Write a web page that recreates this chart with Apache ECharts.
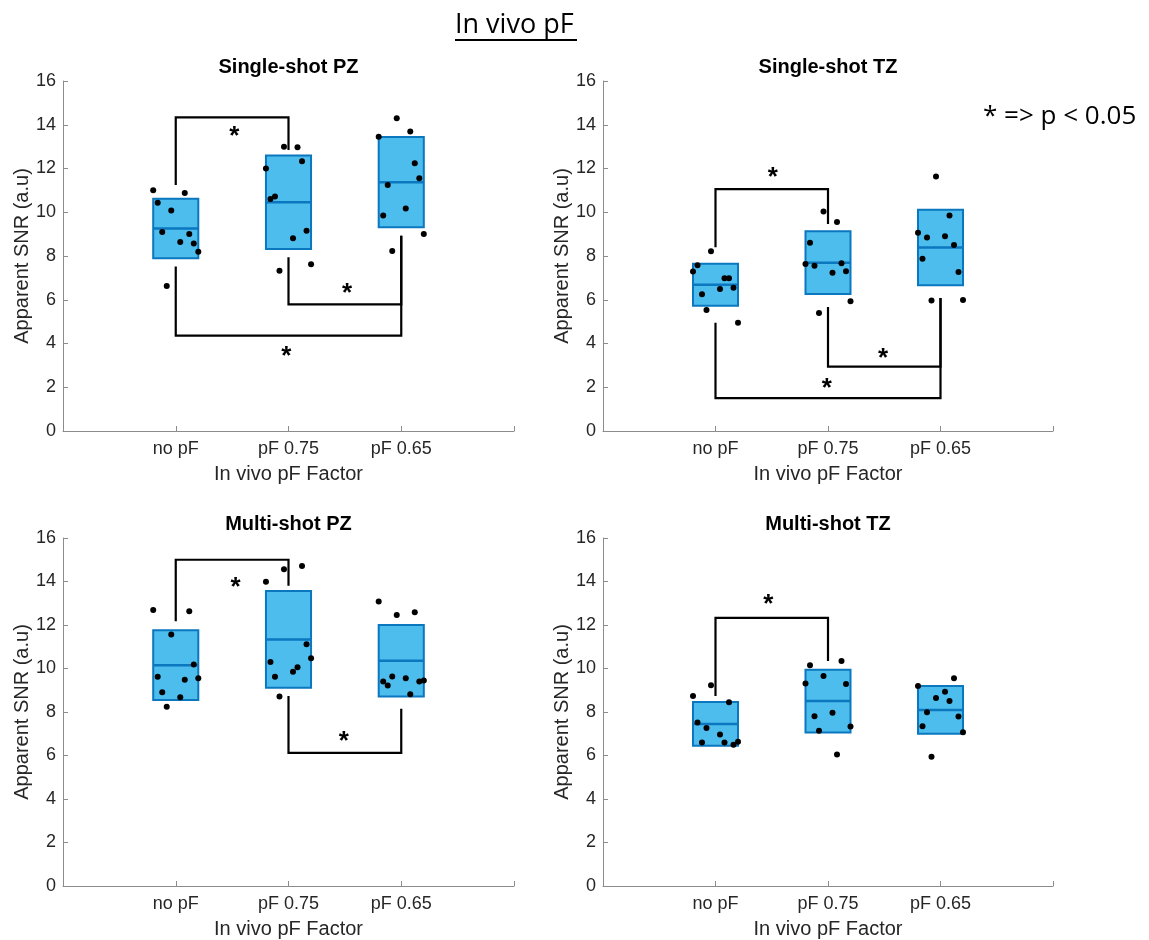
<!DOCTYPE html>
<html>
<head>
<meta charset="utf-8">
<title>In vivo pF</title>
<script src="https://cdn.jsdelivr.net/npm/echarts@6/dist/echarts.min.js"></script>
<style>
  html, body { margin: 0; padding: 0; background: #ffffff; }
  #chart { width: 1149px; height: 940px; }
</style>
</head>
<body>
<div id="chart"></div>
<script>
// ---- data -------------------------------------------------------------
const categories = ['no pF', 'pF 0.75', 'pF 0.65'];
const yTicks = [0, 2, 4, 6, 8, 10, 12, 14, 16];
// horizontal spread of the subject points around each category
const jitter = [-0.2, -0.16, -0.12, -0.08, -0.04, 0.04, 0.08, 0.12, 0.16, 0.2];

// Single-shot PZ
const ssPZ_noPF  = [11.01, 10.44, 9.10, 6.63, 10.08, 8.64, 10.88, 9.01, 8.57, 8.20];
const ssPZ_pF075 = [12.00, 10.61, 10.72, 7.33, 13.00, 8.81, 12.97, 12.33, 9.15, 7.62];
const ssPZ_pF065 = [13.45, 9.85, 11.25, 8.23, 14.30, 10.17, 13.69, 12.24, 11.55, 9.01];
// Single-shot TZ
const ssTZ_noPF  = [7.29, 7.58, 6.25, 5.53, 8.22, 6.49, 6.98, 6.98, 6.55, 4.95];
const ssTZ_pF075 = [7.64, 8.61, 7.56, 5.40, 10.03, 7.24, 9.55, 7.67, 7.30, 5.93];
const ssTZ_pF065 = [9.06, 7.87, 8.85, 5.97, 11.64, 8.90, 9.85, 8.50, 7.27, 5.99];
// Multi-shot PZ
const msPZ_noPF  = [12.69, 9.62, 8.91, 8.24, 11.56, 8.68, 9.48, 12.63, 10.18, 9.55];
const msPZ_pF075 = [13.99, 10.30, 9.62, 8.71, 14.56, 9.85, 10.06, 14.71, 11.12, 10.47];
const msPZ_pF065 = [13.08, 9.40, 9.22, 9.63, 12.46, 9.55, 8.82, 12.59, 9.40, 9.45];
// Multi-shot TZ
const msTZ_noPF  = [8.73, 7.52, 6.60, 7.27, 9.23, 6.97, 6.60, 8.45, 6.49, 6.63];
const msTZ_pF075 = [9.31, 10.15, 7.81, 7.14, 9.65, 7.96, 6.05, 10.35, 9.29, 7.33];
const msTZ_pF065 = [9.20, 7.35, 7.99, 5.94, 8.64, 8.93, 8.51, 9.55, 7.79, 7.07];

// significance brackets: [from category, from level, to category, to level, bar level]
const ssPZ_brackets = [[1, 11.25, 2, 12.85, 14.34], [2, 7.94, 3, 8.93, 5.79], [1, 7.52, 3, 8.93, 4.36]];
const ssTZ_brackets = [[1, 8.40, 2, 9.46, 11.06], [2, 5.67, 3, 6.08, 2.94], [1, 4.95, 3, 6.08, 1.50]];
const msPZ_brackets = [[1, 12.17, 2, 13.81, 15.00], [2, 8.73, 3, 8.15, 6.12]];
const msTZ_brackets = [[1, 8.73, 2, 10.34, 12.33]];
// asterisk positions [x, y] next to each bracket
const ssPZ_stars = [[1.52, 13.69], [2.52, 6.48], [1.98, 3.63]];
const ssTZ_stars = [[1.51, 11.82], [2.49, 3.52], [1.99, 2.14]];
const msPZ_stars = [[1.53, 13.96], [2.49, 6.84]];
const msTZ_stars = [[1.47, 13.17]];

const panelTitles = ['Single-shot PZ', 'Single-shot TZ', 'Multi-shot PZ', 'Multi-shot TZ'];
const xName = 'In vivo pF Factor';
const yName = 'Apparent SNR (a.u)';

// ---- layout & style ---------------------------------------------------
const grids = [
  { left: 63,  top: 81,  width: 451, height: 350 },
  { left: 603, top: 81,  width: 450, height: 350 },
  { left: 63,  top: 538, width: 451, height: 349 },
  { left: 603, top: 538, width: 450, height: 349 }
];
const BOX_HALF = 0.2;
const FONT = 'Liberation Sans';
const TEXT_COLOR = '#262626';
const AXIS_COLOR = '#8c8c8c';
const FILL = '#4DBDED';
const EDGE = '#0B77BF';

const panels = [
  { groups: [ssPZ_noPF, ssPZ_pF075, ssPZ_pF065], brackets: ssPZ_brackets, stars: ssPZ_stars },
  { groups: [ssTZ_noPF, ssTZ_pF075, ssTZ_pF065], brackets: ssTZ_brackets, stars: ssTZ_stars },
  { groups: [msPZ_noPF, msPZ_pF075, msPZ_pF065], brackets: msPZ_brackets, stars: msPZ_stars },
  { groups: [msTZ_noPF, msTZ_pF075, msTZ_pF065], brackets: msTZ_brackets, stars: msTZ_stars }
];

// box = mean +/- one standard deviation, line = mean
function meanSd(arr) {
  const n = arr.length;
  const m = arr.reduce((a, b) => a + b, 0) / n;
  const v = arr.reduce((a, b) => a + (b - m) * (b - m), 0) / (n - 1);
  return [m, Math.sqrt(v)];
}

const xAxes = [], yAxes = [], series = [], titles = [];

panels.forEach((p, i) => {
  const g = grids[i];
  titles.push({
    text: panelTitles[i],
    left: g.left + g.width / 2,
    top: g.top - 24,
    textAlign: 'center',
    padding: 0,
    textStyle: { fontFamily: FONT, fontSize: 20, fontWeight: 'bold', color: '#000' }
  });
  xAxes.push({
    gridIndex: i, type: 'value', min: 0, max: 4, interval: 1,
    name: xName, nameLocation: 'middle', nameGap: 33,
    nameTextStyle: { fontFamily: FONT, fontSize: 20, color: TEXT_COLOR },
    axisLine: { show: true, onZero: false, lineStyle: { color: AXIS_COLOR, width: 1 } },
    axisTick: { show: true, inside: true, length: 5, lineStyle: { color: AXIS_COLOR } },
    axisLabel: {
      margin: 9, fontFamily: FONT, fontSize: 18, color: TEXT_COLOR,
      formatter: v => (v >= 1 && v <= 3 ? categories[v - 1] : '')
    },
    splitLine: { show: false }
  });
  yAxes.push({
    gridIndex: i, type: 'value', min: yTicks[0], max: yTicks[yTicks.length - 1], interval: 2,
    name: yName, nameLocation: 'middle', nameGap: 31,
    nameTextStyle: { fontFamily: FONT, fontSize: 20, color: TEXT_COLOR },
    axisLine: { show: true, lineStyle: { color: AXIS_COLOR, width: 1 } },
    axisTick: { show: true, inside: true, length: 5, lineStyle: { color: AXIS_COLOR } },
    axisLabel: { margin: 7, fontFamily: FONT, fontSize: 18, color: TEXT_COLOR },
    splitLine: { show: false }
  });

  // mean +/- SD boxes
  const boxData = p.groups.map((arr, k) => {
    const [m, s] = meanSd(arr);
    return [k + 1, m - s, m, m + s];
  });
  series.push({
    type: 'custom', xAxisIndex: i, yAxisIndex: i, z: 2, silent: true,
    data: boxData,
    renderItem: (params, api) => {
      const x = api.value(0);
      const tl = api.coord([x - BOX_HALF, api.value(3)]);
      const br = api.coord([x + BOX_HALF, api.value(1)]);
      const ml = api.coord([x - BOX_HALF, api.value(2)]);
      const mr = api.coord([x + BOX_HALF, api.value(2)]);
      return {
        type: 'group',
        children: [
          { type: 'rect', shape: { x: tl[0], y: tl[1], width: br[0] - tl[0], height: br[1] - tl[1] },
            style: { fill: FILL, stroke: EDGE, lineWidth: 2 } },
          { type: 'line', shape: { x1: ml[0], y1: ml[1], x2: mr[0], y2: mr[1] },
            style: { stroke: EDGE, lineWidth: 2.5 } }
        ]
      };
    }
  });

  // subject points
  const pts = [];
  p.groups.forEach((arr, k) => arr.forEach((v, j) => pts.push([k + 1 + jitter[j], v])));
  series.push({
    type: 'scatter', xAxisIndex: i, yAxisIndex: i, z: 3, silent: true,
    symbol: 'circle', symbolSize: 6,
    itemStyle: { color: '#000', opacity: 1 },
    data: pts
  });

  // significance brackets
  series.push({
    type: 'custom', xAxisIndex: i, yAxisIndex: i, z: 4, silent: true,
    data: p.brackets,
    renderItem: (params, api) => {
      const a = api.coord([api.value(0), api.value(1)]);
      const b = api.coord([api.value(0), api.value(4)]);
      const c = api.coord([api.value(2), api.value(4)]);
      const d = api.coord([api.value(2), api.value(3)]);
      return {
        type: 'polyline',
        shape: { points: [a, b, c, d] },
        style: { stroke: '#000', lineWidth: 2.2, fill: null }
      };
    }
  });

  // asterisks
  series.push({
    type: 'custom', xAxisIndex: i, yAxisIndex: i, z: 5, silent: true,
    data: p.stars,
    renderItem: (params, api) => {
      const pt = api.coord([api.value(0), api.value(1)]);
      return {
        type: 'text',
        x: pt[0], y: pt[1] + 5,
        style: {
          text: '*', fontFamily: FONT, fontSize: 26, fontWeight: 'bold',
          fill: '#000', align: 'center', verticalAlign: 'middle'
        }
      };
    }
  });
});

const chart = echarts.init(document.getElementById('chart'), null, { renderer: 'canvas' });
chart.setOption({
  backgroundColor: '#ffffff',
  animation: false,
  title: titles,
  grid: grids.map(g => Object.assign({ containLabel: false }, g)),
  xAxis: xAxes,
  yAxis: yAxes,
  series: series,
  graphic: [
    { type: 'text', left: 455, top: 12,
      style: { text: 'In vivo pF', fontFamily: 'Open Sans', fontSize: 27, fill: '#000' } },
    { type: 'line', shape: { x1: 455, y1: 40, x2: 577, y2: 40 },
      style: { stroke: '#000', lineWidth: 2 } },
    { type: 'text', left: 983, top: 104,
      style: { text: '* => p < 0.05', fontFamily: 'Open Sans', fontSize: 26, fill: '#000' } }
  ]
});
</script>
</body>
</html>
